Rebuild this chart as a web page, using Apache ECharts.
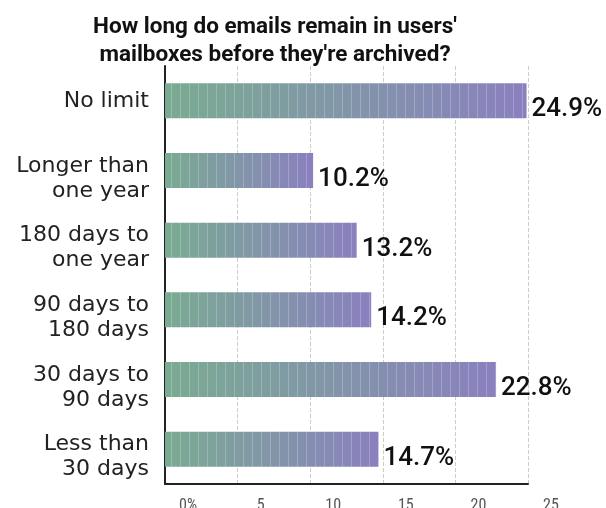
<!DOCTYPE html>
<html>
<head>
<meta charset="UTF-8">
<title>Email archiving</title>
<script src="https://cdn.jsdelivr.net/npm/echarts@6/dist/echarts.min.js"></script>
<style>
  html, body { margin: 0; padding: 0; background: #fff; }
</style>
</head>
<body>
<div id="main" style="width:606px;height:508px"></div>
<script>
var categories = ['No limit', 'Longer than\none year', '180 days to\none year', '90 days to\n180 days', '30 days to\n90 days', 'Less than\n30 days'];
var values = [24.9, 10.2, 13.2, 14.2, 22.8, 14.7];
var tickLabels = ['0%', '5', '10', '15', '20', '25'];

var myChart = echarts.init(document.getElementById('main'));

var option = {
    backgroundColor: '#fff',
    animation: false,
    title: {
        text: "How long do emails remain in users'\nmailboxes before they're archived?",
        left: 270,
        top: 8,
        textAlign: 'center',
        textStyle: {
            fontFamily: 'Roboto',
            fontSize: 22.5,
            fontWeight: 'bold',
            color: '#111',
            lineHeight: 28
        }
    },
    grid: {
        left: 165,
        right: 78,
        top: 66,
        bottom: 24,
        containLabel: false,
        outerBoundsMode: 'none'
    },
    xAxis: {
        type: 'value',
        min: 0,
        max: 25,
        interval: 5,
        axisLine: { show: true, lineStyle: { color: '#222', width: 2 } },
        axisTick: { show: false },
        splitLine: { show: true, lineStyle: { color: '#ccc', type: 'dashed', width: 1 } },
        axisLabel: {
            margin: 14,
            fontFamily: 'Roboto Condensed, Roboto',
            fontSize: 16,
            color: '#555',
            padding: [0, 0, 0, 46],
            formatter: function (v) { return tickLabels[v / 5]; }
        }
    },
    yAxis: {
        type: 'category',
        inverse: true,
        data: categories,
        axisLine: { show: true, lineStyle: { color: '#222', width: 2 } },
        axisTick: { show: false },
        axisLabel: {
            margin: 16,
            fontFamily: 'DejaVu Sans',
            fontSize: 22,
            lineHeight: 25,
            color: '#222',
            formatter: function (v) {
                // two-line labels sit a little lower in the original
                return v.indexOf('\n') >= 0 ? '{sp| }\n' + v : v;
            },
            rich: {
                sp: { lineHeight: 16, fontSize: 10 }
            }
        }
    },
    series: [{
        type: 'bar',
        data: values,
        barWidth: 35,
        itemStyle: {
            color: new echarts.graphic.LinearGradient(0, 0, 1, 0, [
                { offset: 0, color: '#7aab92' },
                { offset: 1, color: '#8a80bf' }
            ]),
            decal: {
                symbol: 'rect',
                symbolSize: 1,
                dashArrayX: [1, 8],
                dashArrayY: [40, 0],
                rotation: 0,
                color: 'rgba(255,255,255,0.22)'
            }
        },
        label: {
            show: true,
            position: 'right',
            distance: 5,
            offset: [0, 9],
            fontFamily: 'Roboto',
            fontSize: 26,
            fontWeight: 500,
            color: '#111',
            formatter: '{c}%'
        }
    }]
};
myChart.setOption(option);
</script>
</body>
</html>
